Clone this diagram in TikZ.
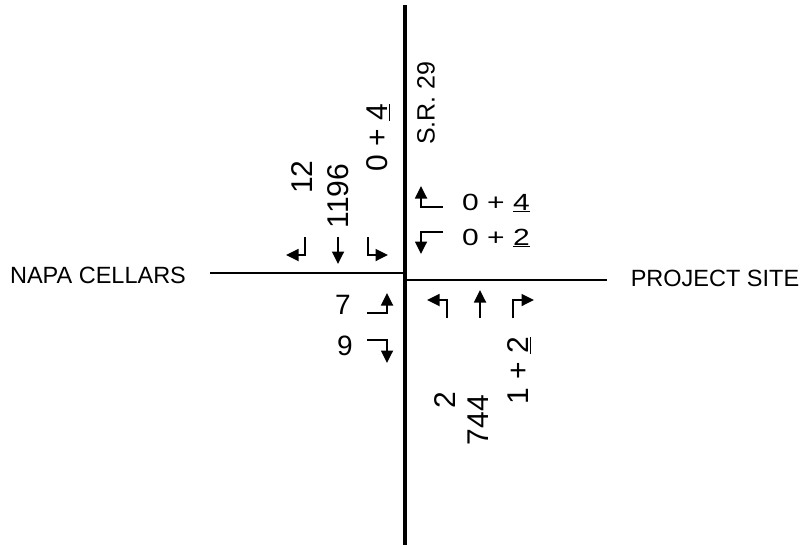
\documentclass[tikz,border=0pt]{standalone}
\usepackage{fontspec}
\setmainfont{Liberation Sans}
\usetikzlibrary{arrows.meta}

\begin{document}
\begin{tikzpicture}[x=1pt,y=-1pt,
  road/.style={line width=3pt},
  turn/.style={line width=1.8pt, -{Triangle[length=12.5pt,width=12pt]}},
  place/.style={inner sep=0pt, font=\fontsize{23.5}{23.5}\selectfont},
  vol/.style={inner sep=0pt, font=\fontsize{30}{30}\selectfont},
  upvol/.style={vol, rotate=90},
  sidevol/.style={vol, yscale=0.78}]
  \useasboundingbox (0,0) rectangle (805,546);
  % roads
  \coordinate (north) at (405,5);
  \coordinate (south) at (405,545);
  \coordinate (west) at (210,273);
  \coordinate (cw) at (405,273);
  \coordinate (ce) at (405,280);
  \coordinate (east) at (607,280);
  \draw[road, line width=3.5pt] (north) -- (south);
  \draw[road, line width=2.8pt] (west) -- (cw);
  \draw[road, line width=2.8pt] (ce) -- (east);
  % street names
  \node[place] (napa) at (98,275) {NAPA CELLARS};
  \node[place] (site) at (715,278) {PROJECT SITE};
  \node[place, rotate=90, font=\fontsize{25}{25}\selectfont] (sr) at (426,103) {S.R. 29};
  % southbound
  \node[upvol] (sbL) at (302,177) {12};
  \node[upvol] (sbT) at (338,196) {1196};
  \node[upvol] (sbR) at (378,138) {0 + \underline{4}};
  \draw[turn] (305,237) -- (305,255) -- (286,255);
  \draw[turn] (338,237) -- (338,264);
  \draw[turn] (368,237) -- (368,255) -- (388,255);
  % westbound
  \node[sidevol] (wbL) at (496,203) {0 + \underline{4}};
  \node[sidevol] (wbR) at (496,238) {0 + \underline{2}};
  \draw[turn] (443,207) -- (421,207) -- (421,186);
  \draw[turn] (443,232) -- (421,232) -- (421,254);
  % eastbound
  \node[vol, font=\fontsize{28}{28}\selectfont] (ebL) at (343,305) {7};
  \node[vol, font=\fontsize{28}{28}\selectfont] (ebR) at (345,346) {9};
  \draw[turn] (367,313) -- (387,313) -- (387,293);
  \draw[turn] (367,340) -- (387,340) -- (387,363);
  % northbound
  \node[upvol] (nbL) at (445,400) {2};
  \node[upvol] (nbT) at (478,420) {744};
  \node[upvol] (nbR) at (519,371) {1 + \underline{2}};
  \draw[turn] (447,318) -- (447,300) -- (427,300);
  \draw[turn] (480,318) -- (480,290);
  \draw[turn] (513,318) -- (513,300) -- (534,300);
\end{tikzpicture}
\end{document}
